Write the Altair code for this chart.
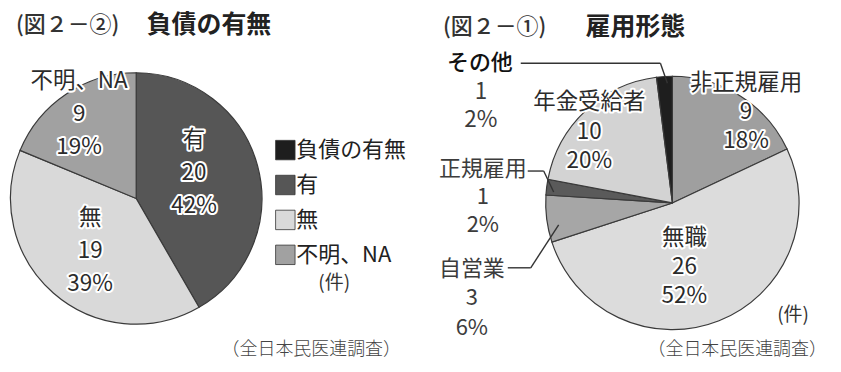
import altair as alt
import pandas as pd

FONT = "Noto Sans CJK JP"

# ---------------- data: 負債の有無 (left) ----------------
debt_title_no = "(図２－②)"
debt_title = "負債の有無"
debt_categories = ["有", "無", "不明、NA"]
debt_counts = [20, 19, 9]
debt_percents = ["42%", "39%", "19%"]
debt_legend_items = ["負債の有無", "有", "無", "不明、NA"]

# ---------------- data: 雇用形態 (right) ----------------
emp_title_no = "(図２－①)"
emp_title = "雇用形態"
emp_categories = ["非正規雇用", "無職", "自営業", "正規雇用", "年金受給者", "その他"]
emp_counts = [9, 26, 3, 1, 10, 1]
emp_percents = ["18%", "52%", "6%", "2%", "20%", "2%"]

unit_label = "(件)"
source_label = "（全日本民医連調査）"

# ---------------- styles ----------------
debt_palette = ["#1e1e1e", "#565656", "#d9d9d9", "#a1a1a1"]
emp_palette = ["#9f9f9f", "#dcdcdc", "#a6a6a6", "#5a5a5a", "#d3d3d3", "#1e1e1e"]
TEXT = "#2b2b2b"


def frame(cats, counts, pcts):
    return pd.DataFrame({
        "cat": cats,
        "n": counts,
        "idx": list(range(len(cats))),
        "label": [f"{c}\n{n}\n{p}" for c, n, p in zip(cats, counts, pcts)],
    })


def stacked(df):
    return (alt.Chart(df)
            .transform_stack(stack="n", groupby=[], as_=["v0", "v1"],
                             sort=[alt.SortField("idx", order="ascending")])
            .transform_calculate(mid="(datum.v0 + datum.v1) / 2"))


def pie(df, total, cx, cy, R, domain, palette, legend):
    return stacked(df).mark_arc(outerRadius=R, stroke="#3a3a3a", strokeWidth=1.2).encode(
        theta=alt.Theta("v0:Q", scale=alt.Scale(domain=[0, total]), stack=False),
        theta2="v1:Q",
        color=alt.Color("cat:N", scale=alt.Scale(domain=domain, range=palette), legend=legend),
        x=alt.value(cx), y=alt.value(cy),
    )


def slice_label(df, total, cx, cy, cat, r, dx, dy, size, lh):
    # 3-line label; the anchor is the first line, so shift up by one line
    b = stacked(df).transform_filter(alt.datum.cat == cat)
    enc = dict(theta=alt.Theta("mid:Q", scale=alt.Scale(domain=[0, total]), stack=False),
               text=alt.Text("label:N"), x=alt.value(cx), y=alt.value(cy))
    common = dict(radius=r, dx=dx, dy=dy - lh, font=FONT, fontSize=size, lineHeight=lh,
                  lineBreak="\n", align="center", baseline="middle")
    halo = b.mark_text(color="white", stroke="white", strokeWidth=4, strokeJoin="round",
                       **common).encode(**enc)
    fg = b.mark_text(color=TEXT, **common).encode(**enc)
    return [halo, fg]


def note(text, x, y, size, color=TEXT, weight="normal", align="center", lh=None):
    kw = dict(font=FONT, fontSize=size, color=color, fontWeight=weight, align=align,
              baseline="middle", lineBreak="\n")
    if lh is not None:
        kw["lineHeight"] = lh
    return alt.Chart(pd.DataFrame({"t": [text]})).mark_text(**kw).encode(
        text="t:N", x=alt.value(x), y=alt.value(y))


def leader(x1, y1, x2, y2):
    return alt.Chart(pd.DataFrame({"k": [0]})).mark_rule(
        color="#333333", strokeWidth=1.4).encode(
        x=alt.value(x1), y=alt.value(y1), x2=alt.value(x2), y2=alt.value(y2))


# ---------------- left panel ----------------
debt_df = frame(debt_categories, debt_counts, debt_percents)
debt_total = sum(debt_counts)
LCX, LCY, LR = 126.5, 190.5, 126

legend = alt.Legend(orient="none", legendX=265, legendY=131, title=None,
                    symbolType="square", symbolSize=380, symbolStrokeColor="#333333",
                    symbolStrokeWidth=0.8, symbolOpacity=1, labelFont=FONT,
                    labelFontSize=22, labelColor="#222222", labelOffset=0,
                    rowPadding=11, padding=0, labelLimit=300)

left_layers = [pie(debt_df, debt_total, LCX, LCY, LR, debt_legend_items, debt_palette, legend)]
left_layout = {"有": (60, 0, -10), "無": (70, 0, 0), "不明、NA": (103, 0, 1)}
for c in debt_categories:
    r, dx, dy = left_layout[c]
    left_layers += slice_label(debt_df, debt_total, LCX, LCY, c, r, dx, dy, 22.5, 33)
left_layers += [
    note(debt_title_no, 6, 17, 22, color="#333333", weight=500, align="left"),
    note(debt_title, 137, 17, 25, color="#222222", weight="bold", align="left"),
    note(unit_label, 325, 275, 19, color="#333333"),
    note(source_label, 302, 342, 18, color="#444444", weight=300),
]
left = alt.layer(*left_layers).properties(width=412, height=356)

# ---------------- right panel ----------------
emp_df = frame(emp_categories, emp_counts, emp_percents)
emp_total = sum(emp_counts)
RCX, RCY, RR = 252, 195, 127

right_layers = [pie(emp_df, emp_total, RCX, RCY, RR, emp_categories, emp_palette, None)]
right_layout = {"非正規雇用": (108, 16, 0), "無職": (68, -13, 1), "年金受給者": (110, -8, 9)}
for c, (r, dx, dy) in right_layout.items():
    right_layers += slice_label(emp_df, emp_total, RCX, RCY, c, r, dx, dy, 22.5, 29.5)

# outside labels with leader lines (y = first line)
right_layers += [
    note(emp_categories[5], 59, 55, 22, color="#111111", weight=500),
    note(f"{emp_counts[5]}\n{emp_percents[5]}", 60, 84, 22.5, color="#3c3c3c", lh=28),
    note(f"{emp_categories[3]}\n{emp_counts[3]}\n{emp_percents[3]}", 62, 161, 22,
         color="#3c3c3c", lh=28),
    note(f"{emp_categories[2]}\n{emp_counts[2]}\n{emp_percents[2]}", 51, 261, 22,
         color="#3c3c3c", lh=29.5),
    leader(100, 55, 240, 55), leader(240, 55, 247, 75),
    leader(107, 163, 123, 163), leader(123, 163, 133, 184),
    leader(87, 260, 110, 260), leader(110, 260, 138, 217),
    note(emp_title_no, 22, 19, 22, color="#333333", weight=500, align="left"),
    note(emp_title, 165, 19, 25, color="#222222", weight="bold", align="left"),
    note(unit_label, 373, 307, 19, color="#333333"),
    note(source_label, 317, 342, 18, color="#444444", weight=300),
]
right = alt.layer(*right_layers).properties(width=413, height=356)

chart = (alt.hconcat(left, right, spacing=0, padding=0)
         .resolve_scale(color="independent", theta="independent")
         .configure_view(stroke=None))

chart.save("out.html", embed_options={"renderer": "svg", "actions": False})
